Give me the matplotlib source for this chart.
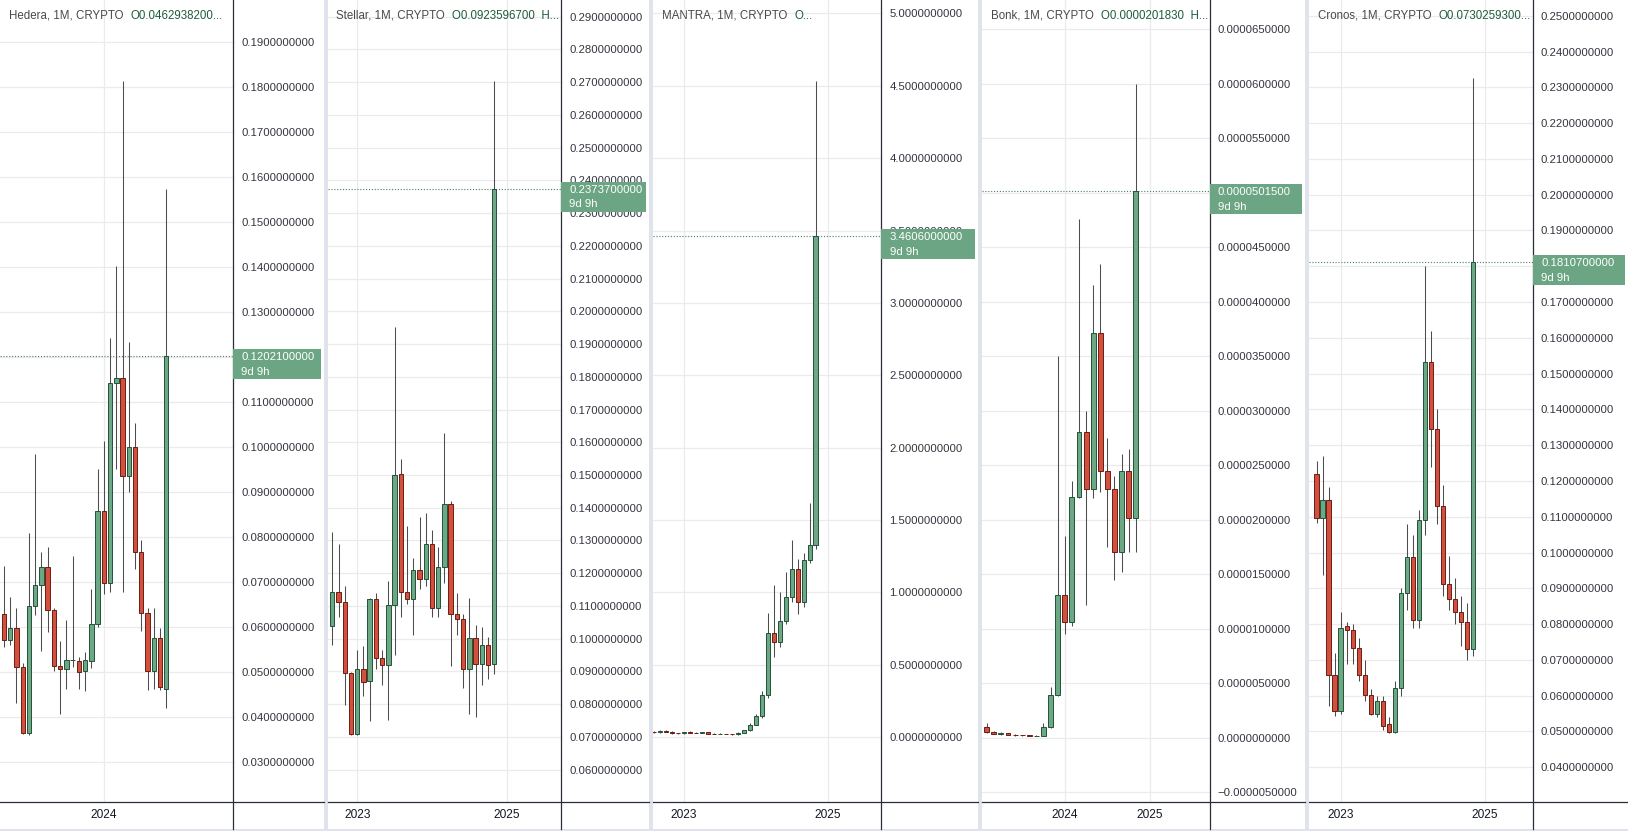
import numpy as np
import matplotlib
matplotlib.use("Agg")
from matplotlib import pyplot as plt
from matplotlib.patches import Rectangle
from matplotlib.lines import Line2D

plt.rcParams['font.family'] = ['Liberation Sans', 'DejaVu Sans']

# month index: 0 = Sep 2022 ... 26 = Nov 2024 (monthly candles)
hedera_month = np.arange(0, 27)
hedera_open = [.0629, .0572, .0598, .0511, .0365, .0648, .0695, .0734, .0638, .0515, .0508, .0527, .0526, .0502,
               .0526, .0607, .0859, .0698, .1144, .1154, .0937, .1001, .0767, .0633, .0502, .0577, .0462938]
hedera_high = [.0737, .0668, .0642, .0520, .0810, .0986, .0767, .0778, .0643, .0570, .0616, .0758, .0535, .0545,
               .0686, .0951, .1015, .1242, .1404, .1814, .1235, .1054, .0795, .0642, .0642, .0598, .1574]
hedera_low = [.0557, .0561, .0431, .0362, .0360, .0627, .0548, .0589, .0504, .0407, .0464, .0513, .0462, .0458,
              .0510, .0601, .0674, .0679, .0952, .0679, .0901, .0729, .0592, .0460, .0462, .0460, .0421]
hedera_close = [.0572, .0598, .0511, .0365, .0648, .0695, .0734, .0638, .0515, .0508, .0528, .0528, .0501, .0528,
                .0607, .0859, .0698, .1144, .1154, .0937, .1001, .0767, .0633, .0502, .0577, .0467, .12021]

stellar_month = np.arange(0, 27)
stellar_open = [.1038, .1141, .1111, .0896, .0708, .0908, .0872, .1120, .0940, .0921, .1103, .1502, .1143, .1120,
                .1209, .1181, .1289, .1095, .1218, .1411, .1075, .1059, .0906, .1001, .0922, .0980, .09235967]
stellar_high = [.1325, .1289, .1161, .0898, .0964, .0979, .1125, .1138, .0965, .1177, .1953, .1548, .1344, .1245,
                .1372, .1383, .1332, .1281, .1627, .1421, .1138, .1075, .1123, .1042, .1036, .1006, .2704]
stellar_low = [.0980, .1065, .0798, .0705, .0706, .0825, .0748, .0906, .0857, .0753, .0950, .1067, .1105, .1011,
               .1153, .1161, .1067, .1067, .1171, .0916, .1011, .0848, .0771, .0761, .0859, .0878, .0891]
stellar_close = [.1141, .1111, .0894, .0708, .0908, .0869, .1120, .0940, .0921, .1103, .1500, .1143, .1120, .1209,
                 .1181, .1289, .1095, .1218, .1411, .1075, .1059, .0906, .1001, .0922, .0980, .0919, .23737]

mantra_month = np.arange(-1, 27)
mantra_open = [.036, .035, .041, .038, .027, .025, .034, .031, .029, .033, .024, .021, .023, .019, .018, .031,
               .046, .085, .145, .290, .720, .660, .800, .970, 1.160, .930, 1.220, 1.330]
mantra_high = [.042, .046, .048, .040, .031, .036, .040, .034, .034, .034, .026, .025, .024, .021, .034, .050,
               .095, .160, .320, .860, 1.050, 1.000, 1.140, 1.360, 1.230, 1.270, 1.620, 4.530]
mantra_low = [.031, .030, .036, .024, .022, .024, .029, .026, .027, .022, .019, .018, .018, .016, .017, .029,
              .044, .080, .130, .270, .550, .620, .780, .930, .850, .900, 1.200, 1.300]
mantra_close = [.035, .041, .038, .027, .025, .034, .031, .029, .033, .024, .021, .023, .019, .018, .031, .046,
                .085, .145, .290, .720, .660, .800, .970, 1.160, .930, 1.220, 1.330, 3.4606]

bonk_month = np.arange(5, 27)
bonk_open = [1.00e-6, .48e-6, .32e-6, .38e-6, .26e-6, .21e-6, .19e-6, .16e-6, .18e-6, .95e-6, 3.9e-6, 13.1e-6,
             10.6e-6, 22.1e-6, 28.0e-6, 22.8e-6, 37.1e-6, 24.5e-6, 22.8e-6, 17.0e-6, 24.5e-6, 20.183e-6]
bonk_high = [1.30e-6, .60e-6, .50e-6, .42e-6, .30e-6, .25e-6, .22e-6, .20e-6, 1.30e-6, 4.6e-6, 35.0e-6, 18.5e-6,
             23.5e-6, 47.6e-6, 30.0e-6, 41.5e-6, 43.5e-6, 27.5e-6, 24.0e-6, 26.0e-6, 26.5e-6, 60.0e-6]
bonk_low = [.45e-6, .28e-6, .25e-6, .22e-6, .18e-6, .16e-6, .14e-6, .13e-6, .17e-6, .90e-6, 3.8e-6, 9.5e-6,
            10.2e-6, 22.0e-6, 12.2e-6, 22.0e-6, 22.5e-6, 17.5e-6, 14.5e-6, 15.2e-6, 17.0e-6, 17.0e-6]
bonk_close = [.48e-6, .32e-6, .38e-6, .26e-6, .21e-6, .19e-6, .16e-6, .18e-6, .95e-6, 3.9e-6, 13.1e-6, 10.6e-6,
              22.1e-6, 28.0e-6, 22.8e-6, 37.1e-6, 24.5e-6, 22.8e-6, 17.0e-6, 24.5e-6, 20.18e-6, 50.15e-6]

cronos_month = np.arange(0, 27)
cronos_open = [.1219, .1096, .1146, .0659, .0557, .0796, .0785, .0732, .0659, .0601, .0549, .0586, .0522, .0499,
               .0621, .0886, .0988, .0811, .1090, .1533, .1344, .1131, .0913, .0869, .0834, .0805, .07302593]
cronos_high = [.1256, .1271, .1184, .0718, .0834, .0805, .0800, .0760, .0700, .0620, .0600, .0600, .0540, .0640,
               .0900, .1080, .1050, .1120, .1801, .1620, .1400, .1190, .0990, .0930, .0880, .0860, .2325]
cronos_low = [.1082, .0936, .0572, .0543, .0549, .0688, .0690, .0640, .0585, .0545, .0540, .0505, .0495, .0495,
              .0600, .0840, .0790, .0790, .1050, .1240, .1080, .0880, .0840, .0800, .0740, .0700, .0710]
cronos_close = [.1096, .1146, .0659, .0557, .0790, .0785, .0732, .0659, .0601, .0549, .0586, .0514, .0499, .0621,
                .0886, .0988, .0811, .1090, .1533, .1344, .1131, .0913, .0869, .0834, .0805, .0730, .18107]

W, H = 1628, 831
PLOT_BOTTOM = 802
FOOT = 829
FS = 8.2

GREEN = '#6ca884'
GREEN_EDGE = '#22543a'
RED = '#d4503e'
RED_EDGE = '#6b1d13'
WICK = '#4d4d4d'
GRID = '#ebebeb'
TXT = '#33363e'
GAP = '#e0e3eb'
LINE = '#2a2e39'


def fx(px):
    return px / W


def fy(py):
    return 1 - py / H


def fmt_price(v):
    s = f'{v:.10f}'
    if v < 0:
        s = '\u2212' + s[1:]
    return s


def draw_candles(ax, month, o, h, l, c):
    month = np.asarray(month)
    o, h, l, c = (np.asarray(a) for a in (o, h, l, c))
    up = c >= o
    ax.vlines(month, l, h, color=WICK, lw=0.75, zorder=2)
    ax.bar(month[up], (c - o)[up], bottom=o[up], width=0.7, color=GREEN,
           edgecolor=GREEN_EDGE, lw=0.7, zorder=3)
    ax.bar(month[~up], (c - o)[~up], bottom=o[~up], width=0.7, color=RED,
           edgecolor=RED_EDGE, lw=0.7, zorder=3)


def draw_panel(fig, x0, x1, x2, xlim, ylim, yticks, year_pos, year_lbl, title, ohlc_txt,
               month, o, h, l, c):
    ax = fig.add_axes([fx(x0), fy(PLOT_BOTTOM), fx(x1 - x0), PLOT_BOTTOM / H])
    ax.set_xlim(*xlim)
    ax.set_ylim(*ylim)
    for s in ax.spines.values():
        s.set_visible(False)
    ax.yaxis.tick_right()
    ax.set_yticks(yticks)
    ax.set_yticklabels([fmt_price(t) for t in yticks])
    ax.set_xticks(year_pos)
    ax.set_xticklabels(year_lbl)
    ax.tick_params(axis='y', length=0, pad=6.0, labelsize=FS, labelcolor=TXT)
    ax.tick_params(axis='x', length=0, pad=5.4, labelsize=8.6, labelcolor='#131722')
    ax.grid(True, color=GRID, lw=0.9, zorder=0)
    ax.set_axisbelow(True)

    draw_candles(ax, month, o, h, l, c)

    price = c[-1]
    ax.axhline(price, color='#4f7d62', lw=0.8, ls=(0, (1, 1.6)), zorder=1)
    yd = ax.transData.transform((0, price))[1]
    py = H - yd
    fig.add_artist(Rectangle((fx(x1), fy(py + 23)), fx(x2 - x1 - 3), 30 / H,
                             transform=fig.transFigure, facecolor='#6ba583',
                             edgecolor='none', zorder=5))
    fig.text(fx(x1 + 8.5), fy(py + 1), f'{price:.10f}', color='white', fontsize=FS,
             va='center', ha='left', zorder=6)
    fig.text(fx(x1 + 8.5), fy(py + 15.5), '9d 9h', color='white', fontsize=FS,
             va='center', ha='left', zorder=6)

    t = fig.text(fx(x0 + 9), fy(16), title, fontsize=FS + 0.1, color='#4a4a4a',
                 va='center', ha='left', zorder=6)
    ax.annotate(ohlc_txt, xy=(1, 0.5), xycoords=t, xytext=(7, 0),
                textcoords='offset pixels', va='center', ha='left',
                fontsize=FS + 0.1, color='#1e5c3c', zorder=6)

    fig.add_artist(Line2D([fx(x1), fx(x1)], [fy(0), fy(FOOT)], transform=fig.transFigure,
                          color=LINE, lw=0.9, zorder=4))
    fig.add_artist(Line2D([fx(x0), fx(x2)], [fy(PLOT_BOTTOM), fy(PLOT_BOTTOM)],
                          transform=fig.transFigure, color=LINE, lw=0.9, zorder=4))
    return ax


fig = plt.figure(figsize=(W / 100, H / 100), dpi=100)
fig.patch.set_facecolor('white')

for g0, g1 in [(323.5, 327.5), (649, 653), (978, 982), (1305, 1309)]:
    fig.add_artist(Rectangle((fx(g0), 0), fx(g1 - g0), 1, transform=fig.transFigure,
                             facecolor=GAP, edgecolor='none', zorder=3))
fig.add_artist(Rectangle((0, 0), 1, (H - FOOT) / H, transform=fig.transFigure,
                         facecolor=GAP, edgecolor='none', zorder=3))

draw_panel(fig, 0, 232.7, 323.5, (-0.64, 36.65), (0.0212, 0.1994),
           np.round(np.arange(3, 20) * 0.01, 4), [16], ['2024'],
           'Hedera, 1M, CRYPTO', 'O0.0462938200...',
           hedera_month, hedera_open, hedera_high, hedera_low, hedera_close)

draw_panel(fig, 327.5, 560.7, 649, (-0.77, 36.66), (0.0501, 0.2951),
           np.round(np.arange(6, 30) * 0.01, 4), [4, 28], ['2023', '2025'],
           'Stellar, 1M, CRYPTO', 'O0.0923596700  H...',
           stellar_month, stellar_open, stellar_high, stellar_low, stellar_close)

draw_panel(fig, 653, 881, 978, (-1.19, 36.94), (-0.449, 5.093),
           np.round(np.arange(0, 11) * 0.5, 2), [4, 28], ['2023', '2025'],
           'MANTRA, 1M, CRYPTO', 'O...',
           mantra_month, mantra_open, mantra_high, mantra_low, mantra_close)

draw_panel(fig, 982, 1209.5, 1305, (4.34, 36.38), (-5.92e-6, 6.769e-5),
           np.round(np.arange(-1, 14) * 5e-6, 12), [16, 28], ['2024', '2025'],
           'Bonk, 1M, CRYPTO', 'O0.0000201830  H...',
           bonk_month, bonk_open, bonk_high, bonk_low, bonk_close)

draw_panel(fig, 1309, 1532.5, 1628, (-1.25, 35.88), (0.0303, 0.2544),
           np.round(np.arange(4, 26) * 0.01, 4), [4, 28], ['2023', '2025'],
           'Cronos, 1M, CRYPTO', 'O0.0730259300...',
           cronos_month, cronos_open, cronos_high, cronos_low, cronos_close)

fig.savefig('out.png', dpi=100, facecolor='white')
